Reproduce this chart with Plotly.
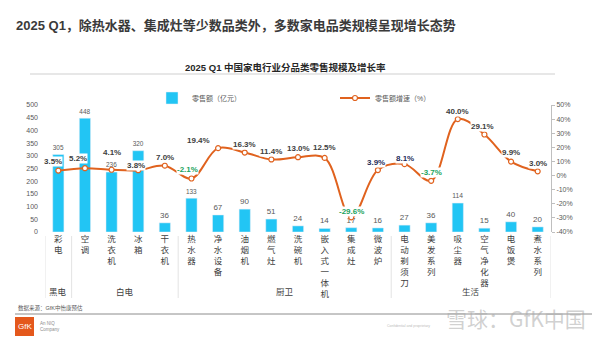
import plotly.graph_objects as go

categories = ["彩电", "空调", "洗衣机", "冰箱", "干衣机", "热水器", "净水设备", "油烟机", "燃气灶", "洗碗机",
              "嵌入式一体机", "集成灶", "微波炉", "电动剃须刀", "美发系列", "吸尘器", "空气净化器", "电饭煲", "煮水系列"]
sales = [305, 448, 236, 320, 36, 133, 67, 90, 51, 24, 14, 17, 16, 27, 36, 114, 15, 40, 20]
growth = [3.5, 5.2, 4.1, 3.8, 7.0, -2.1, 19.4, 16.3, 11.4, 13.0, 12.5, -29.6, 3.9, 8.1, -3.7, 40.0, 29.1, 9.9, 3.0]
groups = ["黑电", "白电", "厨卫", "生活"]
group_sizes = [1, 4, 8, 6]
left_ticks = [0, 50, 100, 150, 200, 250, 300, 350, 400, 450, 500]
right_ticks = [-40, -30, -20, -10, 0, 10, 20, 30, 40, 50]

W, H = 600, 337
L, R, T, B = 45, 49, 105, 105
PW, PH = W - L - R, H - T - B

def xp(px):
    return (px - L) / PW

def yp(py):
    return (H - B - py) / PH

FONT = "Liberation Sans, Arial, Noto Sans CJK SC, sans-serif"
BAR_C = "#22C5F4"
LINE_C = "#E0621E"

fig = go.Figure()
fig.add_trace(go.Bar(
    x=categories, y=sales, name="零售额（亿元）", marker_color=BAR_C, width=0.42,
    text=[str(v) for v in sales], textposition="outside", cliponaxis=False,
    textfont=dict(size=8, color="#595959", family=FONT), legend="legend",
))
fig.add_trace(go.Scatter(
    x=categories, y=growth, yaxis="y2", name="零售额增速（%）", mode="lines+markers",
    line=dict(color=LINE_C, width=2, shape="spline", smoothing=1.0),
    marker=dict(size=5, color="white", line=dict(color=LINE_C, width=1.2)), legend="legend2",
))

# growth labels
xshift = [-5, -7, 0, -2, 0, -4, -20, 0, 0, 0, 0, 0, -2, 0, 0, 0, -2, 0, 0]
yshift = [9, 10, 17, 5, 8, 9, 8, 8, 8, 9, 10, 6, 8, 6, 8, 8, 8, 9, 8]
annotations = []
for i, (c, g) in enumerate(zip(categories, growth)):
    if g < 0:
        col = "#21A35E"
    elif c in ("微波炉", "电动剃须刀"):
        col = "#1F2D5A"
    else:
        col = "#404040"
    annotations.append(dict(
        x=c, y=g, xref="x", yref="y2", text=f"<b>{g:.1f}%</b>", showarrow=False,
        xshift=xshift[i], yshift=yshift[i], bgcolor="white", borderpad=0,
        font=dict(size=8, color=col, family=FONT),
    ))

# group separators and labels
shapes = []
edges = [-0.5]
for s in group_sizes:
    edges.append(edges[-1] + s)
for e in edges:
    shapes.append(dict(type="line", xref="x", yref="paper", x0=e, x1=e, y0=yp(236), y1=yp(298),
                       line=dict(color="#E3E3E3", width=1)))
for gname, a, b in zip(groups, edges[:-1], edges[1:]):
    annotations.append(dict(x=(a + b) / 2, y=yp(292), xref="x", yref="paper", yanchor="middle",
                            text=gname, showarrow=False,
                            font=dict(size=8.5, color="#404040", family=FONT)))

# titles
annotations.append(dict(x=xp(14), y=yp(25), xref="paper", yref="paper", xanchor="left", yanchor="middle",
                        text="<b>2025 Q1，除热水器、集成灶等少数品类外，多数家电品类规模呈现增长态势</b>",
                        showarrow=False, font=dict(size=13, color="#3A3A3A", family=FONT)))
annotations.append(dict(x=xp(285), y=yp(67), xref="paper", yref="paper", xanchor="center", yanchor="middle",
                        text="<b>2025 Q1 中国家电行业分品类零售规模及增长率</b>",
                        showarrow=False, font=dict(size=9.5, color="#262626", family=FONT)))
shapes.append(dict(type="line", xref="paper", yref="paper", x0=xp(30), x1=xp(555), y0=yp(74), y1=yp(74),
                   line=dict(color="#CFCFCF", width=1)))

# footer
annotations.append(dict(x=xp(16), y=yp(308), xref="paper", yref="paper", xanchor="left", yanchor="middle",
                        text="数据来源：GfK中怡康预估", showarrow=False,
                        font=dict(size=5.5, color="#595959", family=FONT)))
shapes.append(dict(type="line", xref="paper", yref="paper", x0=xp(15), x1=xp(592), y0=yp(314), y1=yp(314),
                   line=dict(color="#8C8C8C", width=1)))
shapes.append(dict(type="rect", xref="paper", yref="paper", x0=xp(15), x1=xp(34), y0=yp(317), y1=yp(336),
                   fillcolor="#E4581C", line=dict(width=0)))
annotations.append(dict(x=xp(24.5), y=yp(326), xref="paper", yref="paper", xanchor="center", yanchor="middle",
                        text="GfK", showarrow=False, font=dict(size=8, color="white", family=FONT)))
annotations.append(dict(x=xp(38), y=yp(326), xref="paper", yref="paper", xanchor="left", yanchor="middle",
                        text="An NIQ<br>Company", showarrow=False, align="left",
                        font=dict(size=4.5, color="#8C8C8C", family=FONT)))
annotations.append(dict(x=xp(385), y=yp(326), xref="paper", yref="paper", xanchor="left", yanchor="middle",
                        text="Confidential and proprietary", showarrow=False,
                        font=dict(size=3.5, color="#BBBBBB", family=FONT)))
annotations.append(dict(x=xp(588), y=yp(318), xref="paper", yref="paper", xanchor="right", yanchor="middle",
                        text="雪球：GfK中国", showarrow=False,
                        font=dict(size=21, color="rgba(170,170,170,0.55)", family="Noto Sans CJK SC")))

legend_common = dict(orientation="h", yanchor="middle", xanchor="left",
                     font=dict(size=7, color="#595959"), itemwidth=30, bgcolor="rgba(0,0,0,0)")

fig.update_layout(
    width=W, height=H, margin=dict(l=L, r=R, t=T, b=B),
    paper_bgcolor="white", plot_bgcolor="white",
    font=dict(family=FONT, color="#595959"),
    showlegend=True,
    legend=dict(x=xp(152), y=yp(98), **legend_common),
    legend2=dict(x=xp(335), y=yp(98), **legend_common),
    xaxis=dict(type="category", range=[-0.5, len(categories) - 0.5], showgrid=False, showline=False,
               ticks="", tickvals=categories, ticktext=["<br>".join(list(c)) for c in categories],
               tickfont=dict(size=8.5, color="#404040"), tickangle=0),
    yaxis=dict(range=[0, 500], tickvals=left_ticks, showgrid=False, showline=False, zeroline=False,
               tickfont=dict(size=7, color="#595959"), ticklabelstandoff=6),
    yaxis2=dict(range=[-40, 50], tickvals=right_ticks, ticktext=[f"{v}%" for v in right_ticks],
                overlaying="y", side="right", showgrid=False, zeroline=False, showline=True,
                linecolor="#BFBFBF", linewidth=1, ticks="outside", ticklen=3, tickcolor="#BFBFBF",
                tickfont=dict(size=7, color="#595959")),
    annotations=annotations, shapes=shapes, bargap=0.58,
)

fig.write_html("out.html")
